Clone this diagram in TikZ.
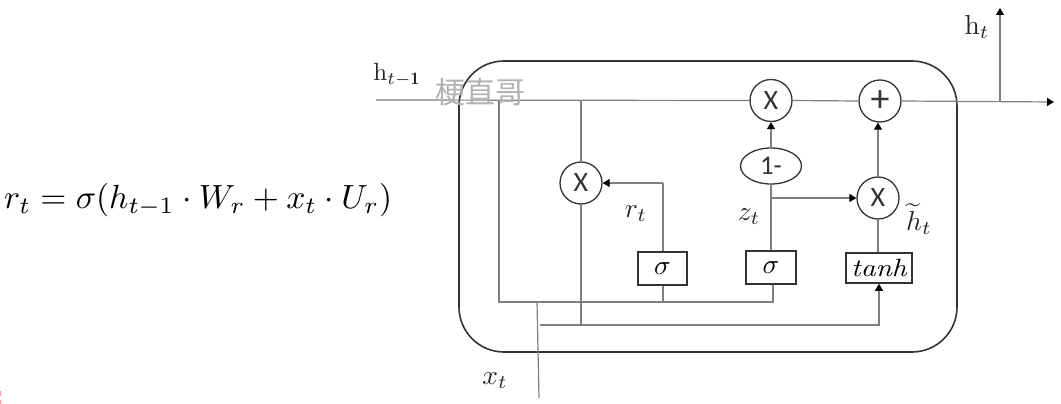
\documentclass[tikz,border=0pt]{standalone}
\usepackage{amsmath}
\usepackage{fontspec}
\usetikzlibrary{arrows.meta,shapes.geometric,calc}
\newfontfamily\cjk{Noto Sans CJK SC}
\newfontfamily\opfont{Carlito}
\definecolor{wire}{gray}{0.5}
\definecolor{edge}{gray}{0.2}
\tikzset{
  x=1pt,y=-1pt,
  wirel/.style={draw=wire,line width=1.2pt},
  arr/.style={wirel,-{Triangle[length=7pt,width=8pt,fill=black,color=black]}},
  opc/.style={circle,draw=edge,line width=1.3pt,minimum size=42pt,inner sep=0pt,font=\opfont\fontsize{28}{28}\selectfont,text=edge},
  boxn/.style={rectangle,draw=edge,line width=1.5pt,inner sep=0pt},
  lab/.style={inner sep=0pt,text=black!85},
}
\newcommand{\lbl}[1]{\scalebox{2.5}{$#1$}}
\newcommand{\lblb}[1]{\scalebox{2.75}{$#1$}}
\begin{document}
\begin{tikzpicture}
\useasboundingbox (0,0) rectangle (1061,404);
% frame
\node[draw=edge,line width=1.6pt,rounded corners=45pt,minimum width=498pt,minimum height=291pt,inner sep=0pt] (frame) at (708,206.5) {};
% operators
\node[opc] (m1) at (771,100.5) {X};
\node[opc,font=\opfont\fontsize{38}{38}\selectfont] (pl) at (880,101) {+};
\node[opc] (m3) at (878,198) {X};
\node[opc] (m2) at (581,183) {X};
\node[ellipse,draw=edge,line width=1.3pt,minimum width=61pt,minimum height=36pt,inner sep=0pt,font=\opfont\fontsize{27}{27}\selectfont,text=edge] (om) at (771,166) {1-};
\node[boxn,minimum width=49pt,minimum height=33pt] (s1) at (662.5,268.5) {\lblb{\sigma}};
\node[boxn,minimum width=50pt,minimum height=33pt] (s2) at (771,267.5) {\lblb{\sigma}};
\node[boxn,minimum width=66pt,minimum height=30pt] (th) at (879,268) {\scalebox{2.9}[2.5]{$\mathit{tanh}$}};
% free ends and junctions
\coordinate (in) at (376,100);
\coordinate (out) at (1054,102);
\coordinate (jl) at (499,100);
\coordinate (jm) at (581,100);
\coordinate (jo) at (1000,102);
\coordinate (top) at (1000,8);
\coordinate (bl) at (499,302);
\coordinate (xb) at (539,398);
\coordinate (xt) at (537,302);
\coordinate (c1) at (540,325);
\coordinate (c2) at (581,325);
\coordinate (c3) at (879,325);
\coordinate (b2) at (773,302);
\coordinate (b1) at (663,302);
\coordinate (r1) at (663,183);
\coordinate (z1) at (771,198);
% wires
\draw[wirel] (in) -- (m1.west);
\draw[wirel] (m1.east) -- (pl.west);
\draw[arr] (pl.east) -- (out);
\draw[arr] (jo) -- (top);
\draw[wirel] (jm) -- (m2.north);
\draw[wirel] (m2.south) -- (c2);
\draw[wirel] (jl) -- (bl) -- (b2) -- (s2.south -| b2);
\draw[wirel] (b1) -- (s1.south -| b1);
\draw[wirel] (s1.north -| r1) -- (r1);
\draw[arr] (r1) -- (m2.east);
\draw[wirel] (xt) -- (xb);
\draw[arr] (c1) -- (c3) -- (th.south -| c3);
\draw[wirel] (s2.north) -- (om.south);
\draw[arr] (om.north) -- (m1.south);
\draw[arr] (z1) -- (m3.west);
\draw[wirel] (m3.south) -- (m3.south |- th.north);
\draw[arr] (m3.north) -- (m3.north |- pl.south);
% labels
\node[lab] (lh1) at (397,75) {\lbl{\mathrm{h}_{t-\mathbf{1}}}};
\node[lab] (lh2) at (977,27) {\lblb{\mathrm{h}_{t}}};
\node[lab] (lr) at (636,214) {\lblb{r_t}};
\node[lab] (lz) at (749,217) {\lblb{z_t}};
\node[lab] (lht) at (919,219) {\lblb{\widetilde{h}_t}};
\node[lab] (lx) at (495,381) {\lblb{x_t}};
\node[inner sep=0pt,text=black!30,font=\cjk\fontsize{30}{30}\selectfont] (wm) at (480,92) {梗直哥};
\node[inner sep=0pt,anchor=west] (eq) at (4,200) {\resizebox{388pt}{!}{$r_t=\sigma(h_{t-1}\cdot W_r+x_t\cdot U_r)$}};
\fill[red!40!white] (0,391) rectangle (1,396) (0,400) rectangle (1,404);
\end{tikzpicture}
\end{document}
